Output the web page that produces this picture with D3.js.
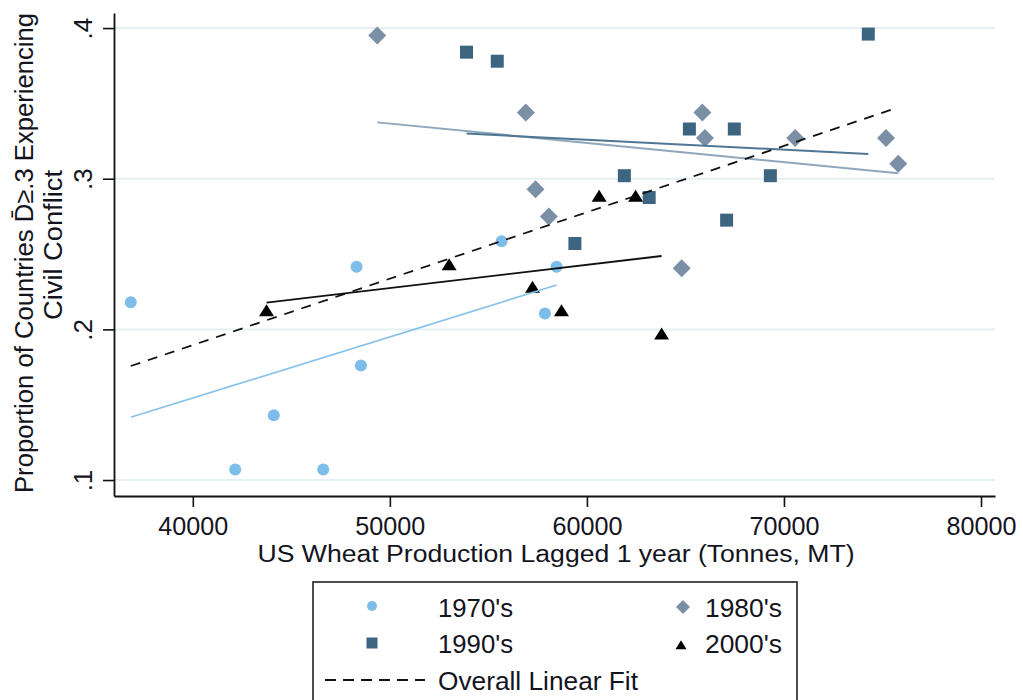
<!DOCTYPE html>
<html lang="en">
<head>
<meta charset="utf-8">
<script src="https://d3js.org/d3.v7.min.js"></script>
<style>
  body { margin: 0; background: #fff; }
  svg { display: block; font-family: "Liberation Sans", Arial, sans-serif; }
</style>
</head>
<body>
<div id="plot"></div>
<script>
// points, one pair of arrays per decade
const x1970 = [36850, 42150, 44110, 46620, 48310, 48530, 55670, 57870, 58460];
const y1970 = [0.218, 0.107, 0.143, 0.107, 0.2415, 0.176, 0.2585, 0.2105, 0.2415];

const x1980 = [49360, 56900, 57390, 58070, 64810, 65860, 65990, 70570, 75180, 75800];
const y1980 = [0.395, 0.344, 0.293, 0.275, 0.2405, 0.344, 0.327, 0.327, 0.327, 0.310];

const x1990 = [53890, 55450, 59390, 61900, 63160, 65200, 67090, 67480, 69310, 74280];
const y1990 = [0.384, 0.378, 0.257, 0.302, 0.2875, 0.333, 0.2725, 0.333, 0.302, 0.396];

const x2000 = [43740, 53010, 57240, 58710, 60620, 62470, 63790];
const y2000 = [0.2125, 0.243, 0.228, 0.2125, 0.2885, 0.2885, 0.197];

// fitted lines, end points as read
const fitX1970 = [36850, 58460], fitY1970 = [0.1416, 0.2294];
const fitX1980 = [49360, 75800], fitY1980 = [0.3374, 0.3036];
const fitX1990 = [53890, 74280], fitY1990 = [0.3300, 0.3164];
const fitX2000 = [43740, 63790], fitY2000 = [0.2177, 0.2487];
const fitXAll = [36850, 75800], fitYAll = [0.1757, 0.3474];

const xTicks = [40000, 50000, 60000, 70000, 80000];
const yTicks = [0.1, 0.2, 0.3, 0.4];
const legendLabels = ["1970's", "1980's", "1990's", "2000's", "Overall Linear Fit"];

const textColor = "#14141e";
const col1970 = "#7dbde9", col1980 = "#7b8fa6", col1990 = "#3e6580", col2000 = "#000";

const svg = d3.select("#plot").append("svg")
    .attr("width", 1023)
    .attr("height", 700);

const x = d3.scaleLinear().domain([36000, 80710]).range([114, 995]);
const y = d3.scaleLinear().domain([0.0894, 0.41]).range([496, 13]);

// grid
svg.append("g")
  .selectAll("line")
  .data(yTicks)
  .join("line")
    .attr("x1", 114).attr("x2", 995)
    .attr("y1", d => y(d)).attr("y2", d => y(d))
    .attr("stroke", "#e6eff1")
    .attr("stroke-width", 2);

// x axis
const xAxis = svg.append("g")
    .attr("transform", "translate(0,496)")
    .call(d3.axisBottom(x).tickValues(xTicks).tickSize(11).tickSizeOuter(0).tickFormat(d3.format("d")));
xAxis.select(".domain").attr("stroke", "#111").attr("stroke-width", 1.8);
xAxis.selectAll(".tick line").attr("stroke", "#111").attr("stroke-width", 1.6);
xAxis.selectAll(".tick text")
    .attr("y", 39).attr("dy", 0)
    .attr("fill", textColor)
    .style("font-size", "25px")
    .attr("textLength", 70).attr("lengthAdjust", "spacingAndGlyphs");

// y axis
const yAxis = svg.append("g")
    .attr("transform", "translate(114,0)")
    .call(d3.axisLeft(y).tickValues(yTicks).tickSize(11).tickSizeOuter(0).tickFormat(d => String(d).replace(/^0/, "")));
yAxis.select(".domain").attr("stroke", "#111").attr("stroke-width", 1.8);
yAxis.selectAll(".tick line").attr("stroke", "#111").attr("stroke-width", 1.6);
yAxis.selectAll(".tick text")
    .attr("x", null).attr("dy", 0)
    .attr("transform", "translate(-22,0) rotate(-90)")
    .attr("text-anchor", "middle")
    .attr("fill", textColor)
    .style("font-size", "26px");

// axis titles
svg.append("text")
    .attr("x", 556).attr("y", 562)
    .attr("text-anchor", "middle")
    .attr("fill", textColor)
    .style("font-size", "23px")
    .attr("textLength", 597).attr("lengthAdjust", "spacingAndGlyphs")
    .text("US Wheat Production Lagged 1 year (Tonnes, MT)");

svg.append("text")
    .attr("transform", "translate(33,253) rotate(-90)")
    .attr("text-anchor", "middle")
    .attr("fill", textColor)
    .style("font-size", "26px")
    .attr("textLength", 480).attr("lengthAdjust", "spacingAndGlyphs")
    .text("Proportion of Countries D\u0304\u2265.3 Experiencing");

svg.append("text")
    .attr("transform", "translate(62,245) rotate(-90)")
    .attr("text-anchor", "middle")
    .attr("fill", textColor)
    .style("font-size", "26px")
    .attr("textLength", 150).attr("lengthAdjust", "spacingAndGlyphs")
    .text("Civil Conflict");

// marker shapes, s = half size
function marker(shape, s) {
  if (shape === "circle") return `M${-s},0A${s},${s} 0 1,0 ${s},0A${s},${s} 0 1,0 ${-s},0Z`;
  if (shape === "diamond") return `M0,${-s}L${s},0L0,${s}L${-s},0Z`;
  if (shape === "square") return `M${-s},${-s}H${s}V${s}H${-s}Z`;
  return `M0,${-s * 0.85}L${s},${s * 0.75}H${-s}Z`;
}

const series = [
  {xs: x1970, ys: y1970, shape: "circle", size: 6, color: col1970},
  {xs: x1980, ys: y1980, shape: "diamond", size: 9, color: col1980},
  {xs: x1990, ys: y1990, shape: "square", size: 6.5, color: col1990},
  {xs: x2000, ys: y2000, shape: "triangle", size: 7.5, color: col2000}
];

series.forEach(s => {
  svg.append("g")
    .selectAll("path")
    .data(s.xs.map((v, i) => [v, s.ys[i]]))
    .join("path")
      .attr("transform", d => `translate(${x(d[0])},${y(d[1])})`)
      .attr("d", marker(s.shape, s.size))
      .attr("fill", s.color);
});

// fit lines
const line = d3.line().x(d => x(d[0])).y(d => y(d[1]));
const fits = [
  {xs: fitX1970, ys: fitY1970, color: "#85c1ea", w: 1.6, dash: null},
  {xs: fitX1980, ys: fitY1980, color: "#8fa6bc", w: 2, dash: null},
  {xs: fitX1990, ys: fitY1990, color: "#4f7693", w: 2, dash: null},
  {xs: fitX2000, ys: fitY2000, color: "#111", w: 1.8, dash: null},
  {xs: fitXAll, ys: fitYAll, color: "#111", w: 1.8, dash: "10,8"}
];
fits.forEach(f => {
  svg.append("path")
    .datum(f.xs.map((v, i) => [v, f.ys[i]]))
    .attr("d", line)
    .attr("fill", "none")
    .attr("stroke", f.color)
    .attr("stroke-width", f.w)
    .attr("stroke-dasharray", f.dash);
});

// legend
const legend = svg.append("g");
legend.append("rect")
    .attr("x", 313).attr("y", 582)
    .attr("width", 484).attr("height", 140)
    .attr("fill", "#fff")
    .attr("stroke", "#222")
    .attr("stroke-width", 1.6);

const legendItems = [
  {mx: 372, my: 606, shape: "circle", size: 5, color: col1970, tx: 438, ty: 617, w: 75},
  {mx: 683, my: 607, shape: "diamond", size: 7, color: col1980, tx: 705, ty: 617, w: 77},
  {mx: 372, my: 643, shape: "square", size: 5.5, color: col1990, tx: 438, ty: 653, w: 75},
  {mx: 681, my: 645, shape: "triangle", size: 5.5, color: col2000, tx: 705, ty: 653, w: 77}
];
legendItems.forEach((it, i) => {
  legend.append("path")
    .attr("transform", `translate(${it.mx},${it.my})`)
    .attr("d", marker(it.shape, it.size))
    .attr("fill", it.color);
  legend.append("text")
    .attr("x", it.tx).attr("y", it.ty)
    .attr("fill", textColor)
    .style("font-size", "26px")
    .attr("textLength", it.w).attr("lengthAdjust", "spacingAndGlyphs")
    .text(legendLabels[i]);
});
legend.append("line")
    .attr("x1", 325).attr("x2", 425)
    .attr("y1", 680).attr("y2", 680)
    .attr("stroke", "#111")
    .attr("stroke-width", 1.8)
    .attr("stroke-dasharray", "11,7");
legend.append("text")
    .attr("x", 438).attr("y", 690)
    .attr("fill", textColor)
    .style("font-size", "26px")
    .attr("textLength", 200).attr("lengthAdjust", "spacingAndGlyphs")
    .text(legendLabels[4]);
</script>
</body>
</html>
